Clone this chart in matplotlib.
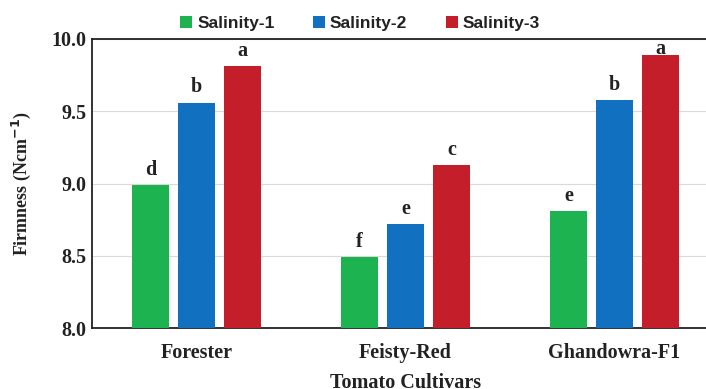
import matplotlib
matplotlib.use("Agg")
import matplotlib.pyplot as plt
import numpy as np

cultivars = ["Forester", "Feisty-Red", "Ghandowra-F1"]
series = ["Salinity-1", "Salinity-2", "Salinity-3"]
sal1 = [8.99, 8.49, 8.81]
sal2 = [9.56, 8.72, 9.58]
sal3 = [9.81, 9.13, 9.89]
letters1 = ["d", "f", "e"]
letters2 = ["b", "e", "b"]
letters3 = ["a", "c", "a"]
colors = ["#1db350", "#1170bf", "#c41e2a"]

serif = ["Liberation Serif", "DejaVu Serif"]
plt.rcParams['font.family'] = serif

fig = plt.figure(figsize=(7.06, 3.89), dpi=100)
ax = fig.add_axes([92/706, 1 - 328/389, 627/706, (328-39)/389])

x = np.arange(len(cultivars))
w = 0.175
offs = [-0.22, 0, 0.22]
for vals, labs, col, name, o in zip([sal1, sal2, sal3], [letters1, letters2, letters3], colors, series, offs):
    ax.bar(x + o, [v - 8.0 for v in vals], w, bottom=8.0, color=col, label=name, zorder=3)
    for xi, v, l in zip(x, vals, labs):
        ax.text(xi + o, min(v + 0.07, 9.895), l, ha="center", va="baseline", fontsize=14.5,
                fontweight="bold", color="#222222")

ax.set_xlim(-0.5, 2.5)
ax.set_ylim(8.0, 10.0)
ax.set_yticks([8.0, 8.5, 9.0, 9.5, 10.0])
ax.set_yticklabels(["8.0", "8.5", "9.0", "9.5", "10.0"])
ax.set_xticks(x)
ax.set_xticklabels(cultivars)
for t in ax.get_xticklabels() + ax.get_yticklabels():
    t.set_fontweight("bold")
    t.set_fontsize(14.5)
    t.set_color("#222222")
ax.tick_params(length=0)
ax.tick_params(axis="y", pad=4)
ax.tick_params(axis="x", pad=11)
ax.yaxis.grid(True, color="#d9d9d9", linewidth=0.8, zorder=0)
for s in ax.spines.values():
    s.set_linewidth(1.3)
    s.set_color("#222222")
ax.set_ylabel("Firmness (Ncm$^{\\mathbf{-1}}$)", fontsize=13, fontweight="bold", color="#222222", labelpad=13)
ax.set_xlabel("Tomato Cultivars", fontsize=14.5, fontweight="bold", color="#222222", labelpad=7)

leg = ax.legend(loc="lower center", ncol=3, frameon=False, handlelength=0.7, handleheight=0.7,
                handletextpad=0.3, columnspacing=2.2, borderaxespad=0.0,
                prop={"family": ["Liberation Sans", "DejaVu Sans"], "weight": "bold", "size": 12.5})
leg.set_bbox_to_anchor((360/706, 1 - 38/389), transform=fig.transFigure)
for t in leg.get_texts():
    t.set_color("#222222")

fig.savefig("out.png", dpi=100)
